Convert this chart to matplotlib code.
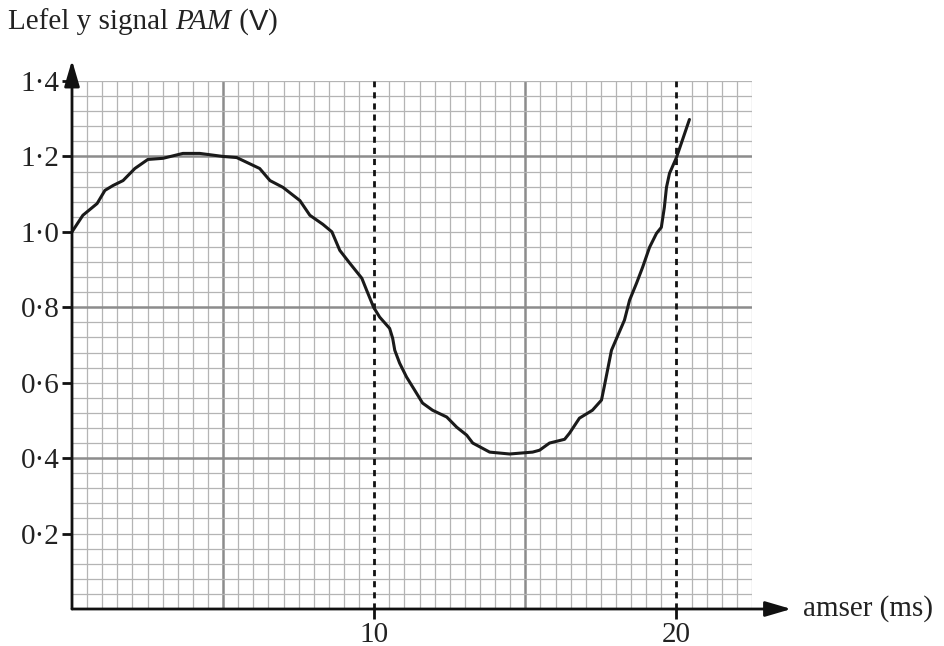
import matplotlib

matplotlib.use("Agg")
import matplotlib.pyplot as plt
import numpy as np

matplotlib.rcParams.update({
    "font.family": ["Liberation Serif", "DejaVu Serif"],
    "font.size": 21,
})

# Signal trace (time in ms, level in V).
TIME_MS = [0.0, 0.36, 0.83, 1.09, 1.36, 1.69, 2.08, 2.51, 3.01, 3.67, 4.23, 4.99,
           5.45, 6.21, 6.55, 6.98, 7.54, 7.87, 8.30, 8.60, 8.86, 9.19, 9.59, 9.75,
           9.98, 10.18, 10.51, 10.61, 10.68, 10.84, 11.07, 11.34, 11.60, 11.93,
           12.40, 12.73, 13.06, 13.26, 13.82, 14.48, 15.24, 15.47, 15.80, 16.30,
           16.46, 16.79, 17.22, 17.52, 17.62, 17.85, 18.28, 18.45, 18.68, 18.88,
           19.11, 19.34, 19.50, 19.60, 19.67, 19.77, 20.00, 20.43]
LEVEL_V = [1.000, 1.044, 1.075, 1.110, 1.123, 1.136, 1.168, 1.192, 1.195, 1.208,
           1.208, 1.200, 1.197, 1.168, 1.136, 1.118, 1.083, 1.044, 1.020, 1.000,
           0.951, 0.917, 0.877, 0.845, 0.800, 0.774, 0.744, 0.718, 0.686, 0.652,
           0.615, 0.580, 0.546, 0.527, 0.509, 0.482, 0.461, 0.440, 0.416, 0.411,
           0.416, 0.421, 0.440, 0.450, 0.466, 0.506, 0.527, 0.554, 0.593, 0.686,
           0.766, 0.819, 0.864, 0.906, 0.959, 0.996, 1.012, 1.065, 1.118, 1.155,
           1.197, 1.298]

Y_TICKS = [0.2, 0.4, 0.6, 0.8, 1.0, 1.2, 1.4]
Y_TICK_LABELS = ["0·2", "0·4", "0·6", "0·8", "1·0", "1·2", "1·4"]
X_TICKS = [10, 20]
X_TICK_LABELS = ["10", "20"]
DASHED_X = [10, 20]

X_MAX = 22.5
Y_MAX = 1.4

fig = plt.figure(figsize=(9.44, 6.46), dpi=100)
ax = fig.add_axes([72 / 944, 37 / 646, 680 / 944, 528 / 646])
ax.set_xlim(0, X_MAX)
ax.set_ylim(0, Y_MAX)

# graph paper
for x in np.arange(0.5, X_MAX + 0.01, 0.5):
    major = abs(x % 5) < 1e-6
    if major and x in DASHED_X:
        continue
    ax.axvline(x, color="#8c8c8c" if major else "#b4b4b4",
               lw=1.8 if major else 0.9, zorder=1)
for y in np.arange(0.04, Y_MAX + 0.001, 0.04):
    major = abs(round(y / 0.04) % 10) == 0
    ax.axhline(y, color="#8c8c8c" if major else "#b4b4b4",
               lw=1.8 if major else 0.9, zorder=1)

for x in DASHED_X:
    ax.axvline(x, color="#111111", lw=2, linestyle=(0, (2.2, 1.8)), zorder=2)

ax.plot(TIME_MS, LEVEL_V, color="#1a1a1a", lw=2.2, zorder=3,
        solid_joinstyle="round", solid_capstyle="round")

for s in ax.spines.values():
    s.set_visible(False)

# axes with arrows
arrow = dict(arrowstyle="-|>,head_length=0.75,head_width=0.22",
             color="#111111", lw=2, shrinkA=0, shrinkB=0)
ax.annotate("", xy=(23.8, 0), xytext=(0, 0), annotation_clip=False, arrowprops=arrow)
ax.annotate("", xy=(0, 1.455), xytext=(0, 0), annotation_clip=False, arrowprops=arrow)

ax.set_yticks(Y_TICKS)
ax.set_yticklabels(Y_TICK_LABELS)
ax.set_xticks(X_TICKS)
ax.set_xticklabels(X_TICK_LABELS)
ax.tick_params(axis="both", direction="out", length=7, width=2, color="#111111",
               labelcolor="#222222", labelsize=21, pad=2)

ax.text(24.2, 0, "amser (ms)", fontsize=21, color="#222222", va="center", ha="left")

# title, built piece by piece (italic PAM, sans V)
renderer = fig.canvas.get_renderer()
x_px = 8
y_fig = 1 - 22 / 646
for piece, style, family in [("Lefel y signal ", "normal", "Liberation Serif"),
                             ("PAM", "italic", "Liberation Serif"),
                             (" (", "normal", "Liberation Serif"),
                             ("V", "normal", "Liberation Sans"),
                             (")", "normal", "Liberation Serif")]:
    t = fig.text(x_px / 944, y_fig, piece, fontsize=21, fontstyle=style,
                 family=family, color="#222222", va="center", ha="left")
    x_px += t.get_window_extent(renderer).width

fig.savefig("out.png", dpi=100)
